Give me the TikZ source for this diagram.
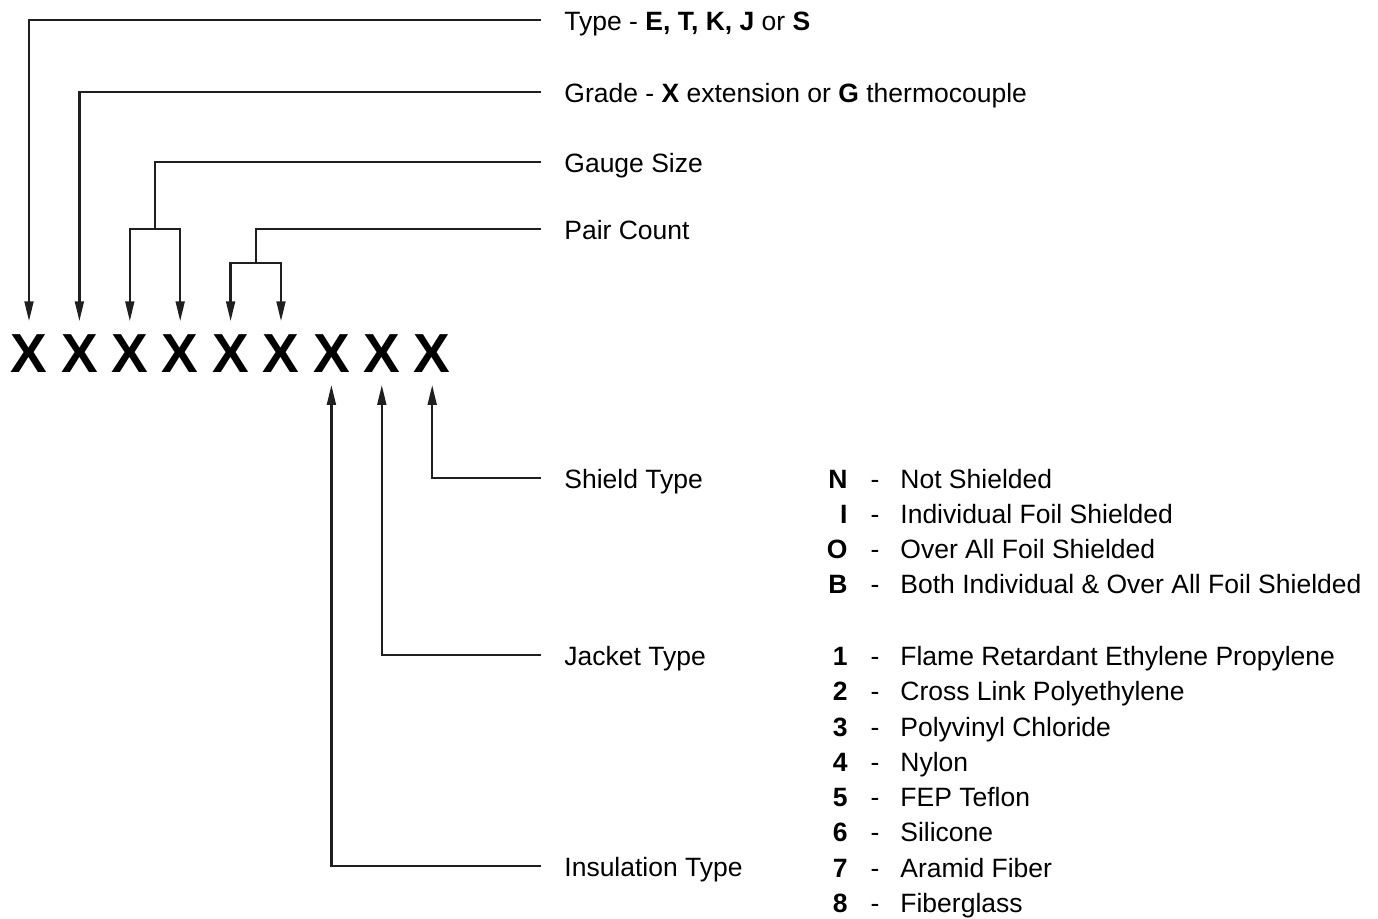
\documentclass[tikz,border=0pt]{standalone}
\usepackage{fontspec}
\setmainfont{Liberation Sans}
\usetikzlibrary{arrows.meta}
\begin{document}
\begin{tikzpicture}[x=0.5pt,y=-0.5pt,
	pointer/.style={line width=1.2pt,draw=black!88,-{Triangle[length=10pt,width=4.4pt]}},
	wire/.style={line width=1.2pt,draw=black!88},
	xch/.style={anchor=base,inner xsep=0pt,inner ysep=6.25pt,font=\fontsize{27.5pt}{30pt}\selectfont\bfseries},
	lbl/.style={anchor=west,inner xsep=11.5pt,inner ysep=0pt,text height=11.7pt,text depth=1.3pt,font=\fontsize{13.25pt}{15pt}\selectfont},
	code/.style={anchor=east,inner sep=0pt,text height=11.7pt,text depth=1.3pt,font=\fontsize{13.25pt}{15pt}\selectfont\bfseries},
	dsh/.style={inner sep=0pt,text height=11.7pt,text depth=1.3pt,font=\fontsize{13.25pt}{15pt}\selectfont},
	desc/.style={anchor=west,inner sep=0pt,text height=11.7pt,text depth=1.3pt,font=\fontsize{13.25pt}{15pt}\selectfont}]
	\useasboundingbox (0,0) rectangle (1378,918);
	%part number
	\foreach \i in {1,...,9}
	\node[xch] (x\i) at ({29+50.4*(\i-1)},372) {X};
	%labels above
	\node[lbl] (type) at (541,20) {Type - \textbf{E, T, K, J} or \textbf{S}};
	\node[lbl] (grade) at (541,92) {Grade - \textbf{X} extension or \textbf{G} thermocouple};
	\node[lbl] (gauge) at (541,162) {Gauge Size};
	\node[lbl] (pair) at (541,229) {Pair Count};
	%labels below
	\node[lbl] (shield) at (541,478) {Shield Type};
	\node[lbl] (jacket) at (541,655) {Jacket Type};
	\node[lbl] (insul) at (541,866) {Insulation Type};
	%junctions
	\coordinate (gj) at (155,229);
	\coordinate (pj) at (256,263);
	%connectors
	\draw[pointer] (type.west) -| (x1.north);
	\draw[pointer] (grade.west) -| (x2.north);
	\draw[wire] (gauge.west) -| (gj);
	\draw[pointer] (gj) -| (x3.north);
	\draw[pointer] (gj) -| (x4.north);
	\draw[wire] (pair.west) -| (pj);
	\draw[pointer] (pj) -| (x5.north);
	\draw[pointer] (pj) -| (x6.north);
	\draw[pointer] (shield.west) -| (x9.south);
	\draw[pointer] (jacket.west) -| (x8.south);
	\draw[pointer] (insul.west) -| (x7.south);
	%shield codes
	\foreach \c/\d [count=\i] in {N/Not Shielded,I/Individual Foil Shielded,O/Over All Foil Shielded,B/Both Individual \& Over All Foil Shielded}{
		\node[code] (sc\i) at (848,{478+35*(\i-1)}) {\c};
		\node[dsh] at (875,{478+35*(\i-1)}) {-};
		\node[desc] (sd\i) at (900,{478+35*(\i-1)}) {\d};
	}
	%jacket and insulation codes
	\foreach \d [count=\i] in {Flame Retardant Ethylene Propylene,Cross Link Polyethylene,Polyvinyl Chloride,Nylon,FEP Teflon,Silicone,Aramid Fiber,Fiberglass}{
		\node[code] (jc\i) at (848,{655+35.3*(\i-1)}) {\i};
		\node[dsh] at (875,{655+35.3*(\i-1)}) {-};
		\node[desc] (jd\i) at (900,{655+35.3*(\i-1)}) {\d};
	}
\end{tikzpicture}
\end{document}
